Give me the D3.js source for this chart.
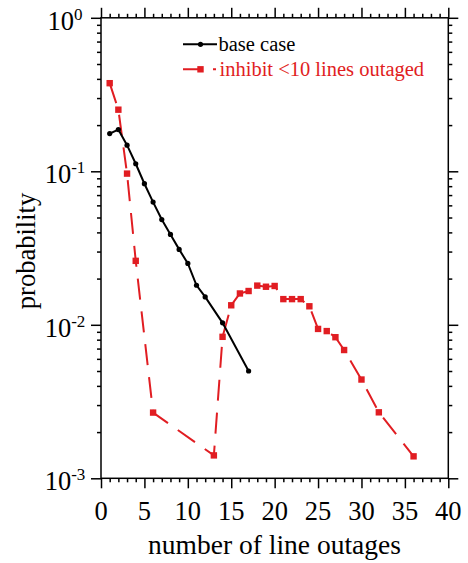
<!DOCTYPE html>
<html><head><meta charset="utf-8">
<script src="https://cdn.jsdelivr.net/npm/d3@7"></script>
<style>body{margin:0;background:#fff} svg{display:block}</style>
</head><body>
<script>
const baseX = [1,2,3,4,5,6,7,8,9,10,11,12,14,17];
const baseP = [0.176,0.187,0.148,0.112,0.083,0.063,0.0485,0.0388,0.031,0.0251,0.0181,0.0152,0.0103,0.0050];
const inhX = [1,2,3,4,6,13,14,15,16,17,18,19,20,21,22,23,24,25,26,27,28,30,32,36];
const inhP = [0.375,0.252,0.0966,0.0261,0.00268,0.00141,0.00835,0.0134,0.0160,0.0166,0.0180,0.0177,0.0179,0.0147,0.0147,0.0147,0.0132,0.0094,0.0091,0.0083,0.00685,0.0044,0.00269,0.00139];
const xTicks = [0,5,10,15,20,25,30,35,40];
const yTickExps = [0,-1,-2,-3];
const legendLabels = ["base case","inhibit <10 lines outaged"];
const xTitle = "number of line outages";
const yTitle = "probability";

const W = 468, H = 563;
const RED = "#e11d22";
const FONT = "'Liberation Serif','Times New Roman',serif";
const svg = d3.select("body").append("svg").attr("width", W).attr("height", H)
  .style("font-family", FONT);

const x = d3.scaleLinear().domain([0, 40]).range([101, 448.3]);
const y = d3.scaleLog().domain([1e-3, 1]).range([478.3, 17.8]);

const xMinor = d3.range(0, 41).filter(v => v % 5 !== 0);
const yMajor = yTickExps.map(e => Math.pow(10, e));
const yMinor = [];
for (let e = -3; e < 0; e++) for (let k = 2; k <= 9; k++) yMinor.push(k * Math.pow(10, e));

function styleAxis(g) {
  g.select(".domain").remove();
  g.selectAll("line").attr("stroke", "#000").attr("stroke-width", 1.5);
  g.selectAll("text").remove();
}
const [x0, x1] = x.range();
const [y0, y1] = y.range();
// bottom
svg.append("g").attr("transform", `translate(0,${y0})`).call(d3.axisBottom(x).tickValues(xTicks).tickSize(10).tickSizeOuter(0)).call(styleAxis);
svg.append("g").attr("transform", `translate(0,${y0})`).call(d3.axisBottom(x).tickValues(xMinor).tickSize(4).tickSizeOuter(0)).call(styleAxis);
// top
svg.append("g").attr("transform", `translate(0,${y1})`).call(d3.axisTop(x).tickValues(xTicks).tickSize(10).tickSizeOuter(0)).call(styleAxis);
svg.append("g").attr("transform", `translate(0,${y1})`).call(d3.axisTop(x).tickValues(xMinor).tickSize(4).tickSizeOuter(0)).call(styleAxis);
// left
svg.append("g").attr("transform", `translate(${x0},0)`).call(d3.axisLeft(y).tickValues(yMajor).tickSize(10).tickSizeOuter(0)).call(styleAxis);
svg.append("g").attr("transform", `translate(${x0},0)`).call(d3.axisLeft(y).tickValues(yMinor).tickSize(4).tickSizeOuter(0)).call(styleAxis);
// right
svg.append("g").attr("transform", `translate(${x1},0)`).call(d3.axisRight(y).tickValues(yMajor).tickSize(10).tickSizeOuter(0)).call(styleAxis);
svg.append("g").attr("transform", `translate(${x1},0)`).call(d3.axisRight(y).tickValues(yMinor).tickSize(4).tickSizeOuter(0)).call(styleAxis);

// frame
svg.append("rect").attr("x", x0).attr("y", y1).attr("width", x1 - x0).attr("height", y0 - y1)
  .attr("fill", "none").attr("stroke", "#000").attr("stroke-width", 1.5);

// x tick labels
svg.append("g").selectAll("text").data(xTicks).join("text")
  .attr("x", d => x(d)).attr("y", y0 + 42).attr("text-anchor", "middle")
  .attr("font-size", 26.5).text(d => d);

// y tick labels
const yl = svg.append("g").selectAll("text").data(yTickExps).join("text")
  .attr("x", 65).attr("y", d => y(Math.pow(10, d)) + 12).attr("text-anchor", "middle")
  .attr("font-size", 26.5);
yl.append("tspan").text("10");
yl.append("tspan").attr("dy", -10).attr("font-size", 17).text(d => d === 0 ? "0" : "-" + (-d));

// titles
svg.append("text").attr("x", 274.5).attr("y", 554).attr("text-anchor", "middle")
  .attr("font-size", 27.5).text(xTitle);
svg.append("text").attr("transform", "translate(35,251) rotate(-90)").attr("text-anchor", "middle")
  .attr("font-size", 26.5).text(yTitle);

// lines
const line = d3.line().x(d => x(d[0])).y(d => y(d[1]));
const baseData = baseX.map((v, i) => [v, baseP[i]]);
const inhData = inhX.map((v, i) => [v, inhP[i]]);

svg.append("path").datum(inhData).attr("d", line).attr("fill", "none")
  .attr("stroke", RED).attr("stroke-width", 2).attr("stroke-dasharray", "21,12");
svg.append("g").selectAll("rect").data(inhData).join("rect")
  .attr("x", d => x(d[0]) - 3.2).attr("y", d => y(d[1]) - 3.2).attr("width", 6.4).attr("height", 6.4)
  .attr("fill", RED);

svg.append("path").datum(baseData).attr("d", line).attr("fill", "none")
  .attr("stroke", "#000").attr("stroke-width", 2);
svg.append("g").selectAll("circle").data(baseData).join("circle")
  .attr("cx", d => x(d[0])).attr("cy", d => y(d[1])).attr("r", 2.6).attr("fill", "#000");

// legend
const lg = svg.append("g");
lg.append("line").attr("x1", 183).attr("x2", 217).attr("y1", 44.3).attr("y2", 44.3)
  .attr("stroke", "#000").attr("stroke-width", 2);
lg.append("circle").attr("cx", 200.5).attr("cy", 44.3).attr("r", 2.6).attr("fill", "#000");
lg.append("text").attr("x", 218.5).attr("y", 51).attr("font-size", 20.5).text(legendLabels[0]);
lg.append("line").attr("x1", 183).attr("x2", 216).attr("y1", 69.3).attr("y2", 69.3)
  .attr("stroke", RED).attr("stroke-width", 2).attr("stroke-dasharray", "16,14,3,100");
lg.append("rect").attr("x", 197.3).attr("y", 66.1).attr("width", 6.4).attr("height", 6.4).attr("fill", RED);
lg.append("text").attr("x", 219.5).attr("y", 76).attr("font-size", 20.5).attr("fill", RED).text(legendLabels[1]);
</script>
</body></html>
